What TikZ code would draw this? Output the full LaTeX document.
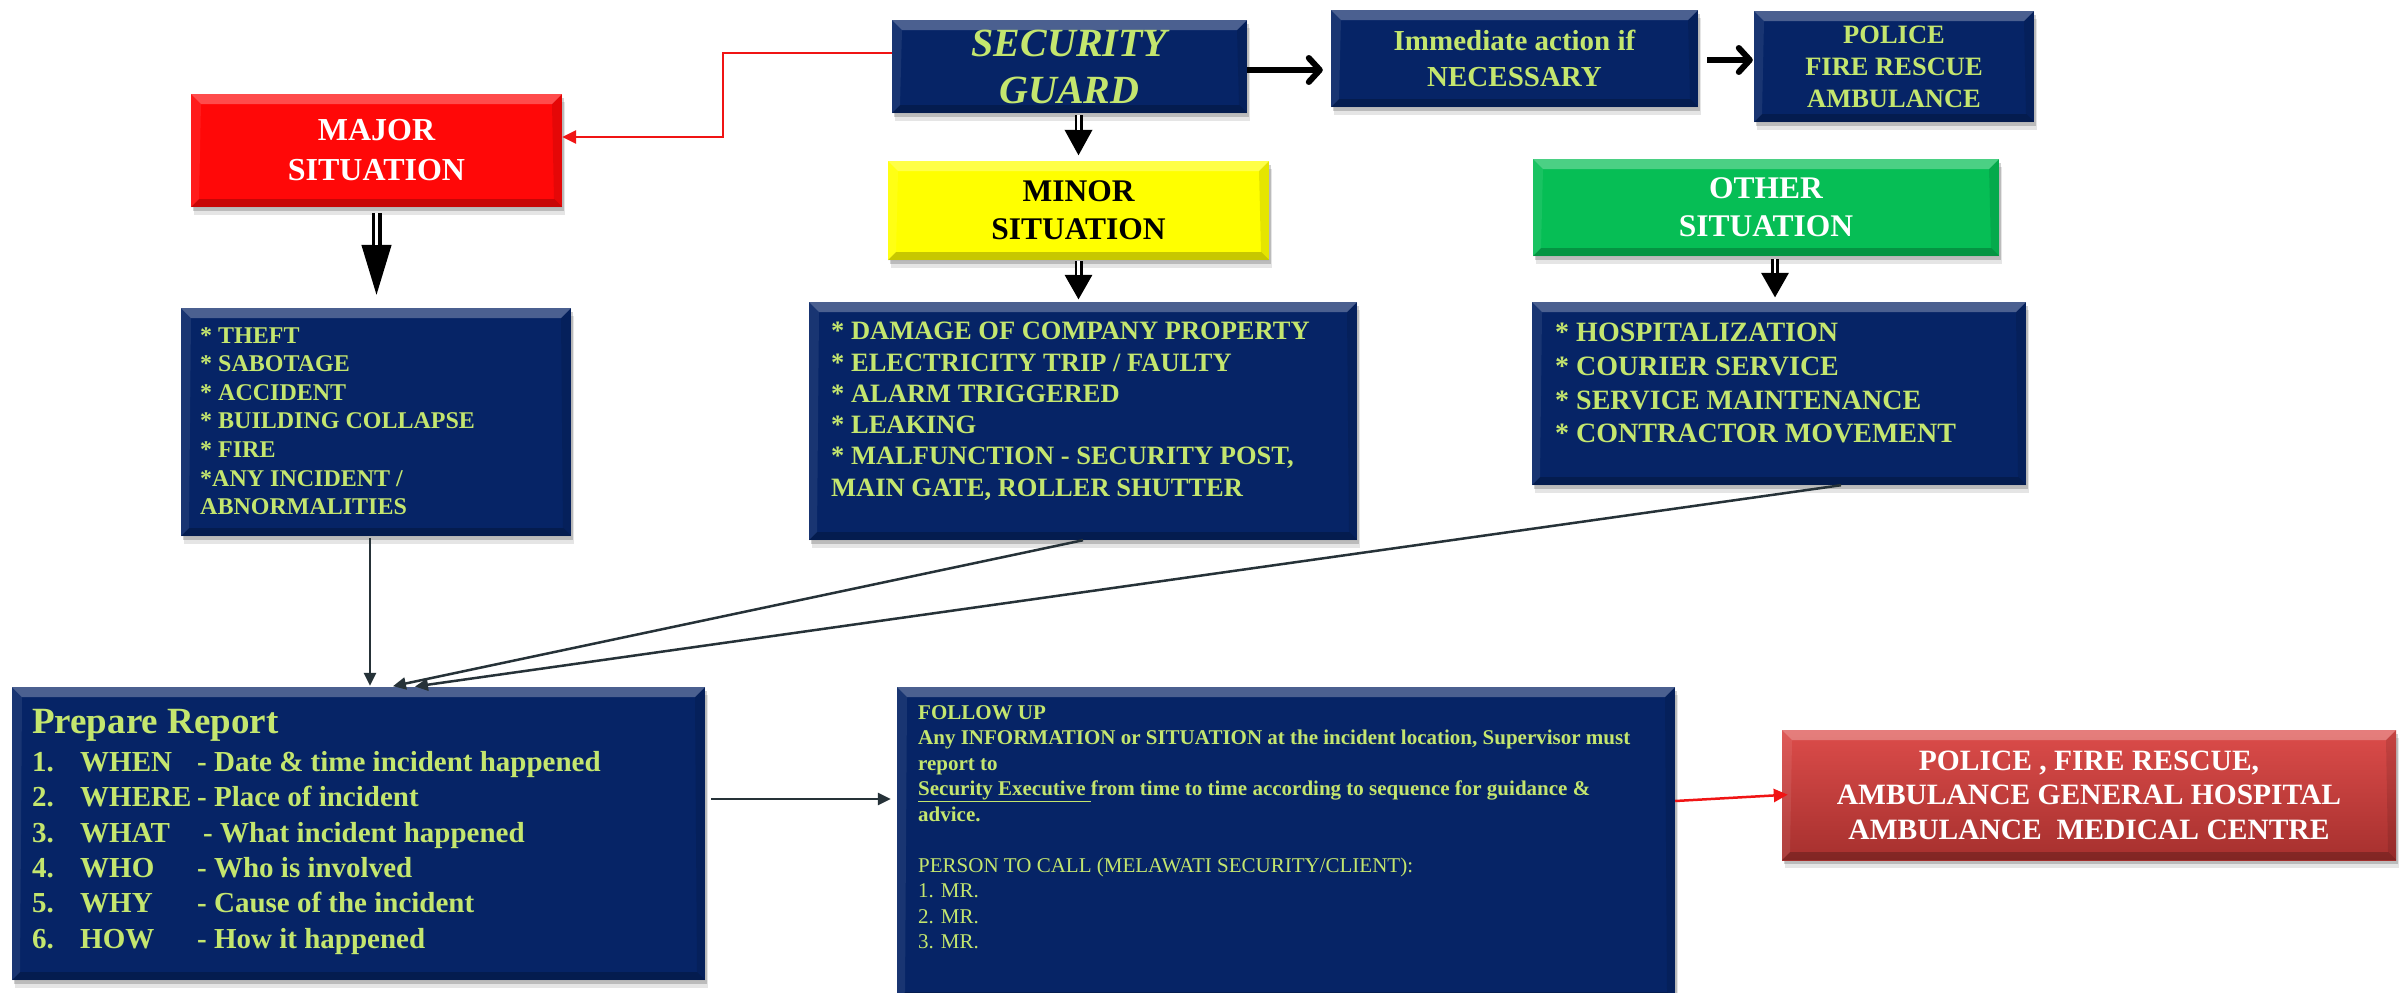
\documentclass[tikz,border=0pt]{standalone}
\usepackage{fontspec}
\setmainfont{Liberation Serif}
\usetikzlibrary{arrows.meta,shadows,calc}
\definecolor{navy}{RGB}{6,36,102}
\definecolor{lgreen}{RGB}{196,230,110}
\definecolor{bxgreen}{RGB}{6,190,85}
\definecolor{bxyellow}{RGB}{255,255,0}
\definecolor{bxred}{RGB}{255,8,8}
\definecolor{redtop}{RGB}{220,76,74}
\definecolor{redbot}{RGB}{166,48,46}
\definecolor{conn}{RGB}{38,50,56}
\definecolor{lnred}{RGB}{240,20,20}
\tikzset{
  bevel/.style={path picture={
    \fill[white,opacity=0.28] (path picture bounding box.north west) -- (path picture bounding box.north east)
      -- ([xshift=-10pt,yshift=-10pt]path picture bounding box.north east) -- ([xshift=10pt,yshift=-10pt]path picture bounding box.north west) -- cycle;
    \fill[black,opacity=0.22] (path picture bounding box.south west) -- (path picture bounding box.south east)
      -- ([xshift=-8pt,yshift=8pt]path picture bounding box.south east) -- ([xshift=8pt,yshift=8pt]path picture bounding box.south west) -- cycle;
    \fill[black,opacity=0.10] (path picture bounding box.north east) -- (path picture bounding box.south east)
      -- ([xshift=-8pt,yshift=8pt]path picture bounding box.south east) -- ([xshift=-10pt,yshift=-10pt]path picture bounding box.north east) -- cycle;
    \fill[white,opacity=0.08] (path picture bounding box.north west) -- (path picture bounding box.south west)
      -- ([xshift=8pt,yshift=8pt]path picture bounding box.south west) -- ([xshift=10pt,yshift=-10pt]path picture bounding box.north west) -- cycle;
  }},
  boxbase/.style={bevel, inner sep=0pt, align=center,
    drop shadow={shadow xshift=3pt, shadow yshift=-8pt, opacity=0.10, fill=black},
    drop shadow={shadow xshift=1.5pt, shadow yshift=-4pt, opacity=0.18, fill=black}},
  navybox/.style={boxbase, fill=navy, text=lgreen},
  listtext/.style={anchor=north west, inner sep=0pt, align=left, text=lgreen},
  thickarr/.style={line width=6pt, -{Straight Barb[length=11pt,width=24pt,round]}},
  bigdn/.style 2 args={line width=8pt, -{Triangle[length=#1pt,width=#2pt]}},
  gap/.style={white, line width=2.5pt},
  connline/.style={conn, line width=2.5pt, -{Triangle[length=13pt,width=12pt]}},
  redline/.style={lnred, line width=2.5pt, -{Triangle[length=14pt,width=13pt]}},
}
\begin{document}
\begin{tikzpicture}[x=1pt,y=-1pt]
\useasboundingbox (0,0) rectangle (2399,993);
\fill[white] (0,0) rectangle (2399,993);

% title boxes
\node[navybox, minimum width=355pt, minimum height=93pt,
  font={\bfseries\itshape\fontsize{40}{47}\selectfont}] (sg) at (1069.5,66.5) {SECURITY\\GUARD};
\node[navybox, minimum width=367pt, minimum height=97pt,
  font={\bfseries\fontsize{29}{36}\selectfont}] (imm) at (1514.5,58.5) {Immediate action if\\NECESSARY};
\node[navybox, minimum width=280pt, minimum height=111pt,
  font={\bfseries\fontsize{26.5}{32}\selectfont}] (pol) at (1894,66.5) {POLICE\\FIRE RESCUE\\AMBULANCE};
\node[boxbase, fill=bxred, text=white, minimum width=371pt, minimum height=113pt,
  font={\bfseries\fontsize{32}{40}\selectfont}] (major) at (376.5,150.5) {MAJOR\\SITUATION};
\node[boxbase, fill=bxyellow, text=black, minimum width=381pt, minimum height=99pt,
  font={\bfseries\fontsize{31.5}{38}\selectfont}] (minor) at (1078.5,210.5) {MINOR\\SITUATION};
\node[boxbase, fill=bxgreen, text=white, minimum width=466pt, minimum height=97pt,
  font={\bfseries\fontsize{31.5}{38}\selectfont}] (other) at (1766,207.5) {OTHER\\SITUATION};

% list boxes
\node[navybox, minimum width=390pt, minimum height=228pt] (majl) at (376,422) {};
\node[navybox, minimum width=548pt, minimum height=238pt] (minl) at (1083,421) {};
\node[navybox, minimum width=494pt, minimum height=183pt] (othl) at (1779,393.5) {};
\node[navybox, minimum width=693pt, minimum height=293pt] (prep) at (358.5,833.5) {};
\node[navybox, minimum width=778pt, minimum height=313pt] (foll) at (1286,843.5) {};
\node[boxbase, top color=redtop, bottom color=redbot, text=white, minimum width=614pt, minimum height=130pt,
  font={\bfseries\fontsize{29.5}{34.5}\selectfont}] (red) at (2089,795)
  {POLICE , FIRE RESCUE,\\AMBULANCE GENERAL HOSPITAL\\AMBULANCE~~MEDICAL CENTRE};

% list texts
\node[listtext, font={\bfseries\fontsize{24}{28.6}\selectfont}] (majt) at (200,327)
  {* THEFT\\* SABOTAGE\\* ACCIDENT\\* BUILDING COLLAPSE\\* FIRE\\*ANY INCIDENT /\\ABNORMALITIES};
\node[listtext, font={\bfseries\fontsize{26.5}{31.3}\selectfont}] (mint) at (831,322)
  {* DAMAGE OF COMPANY PROPERTY\\* ELECTRICITY TRIP / FAULTY\\* ALARM TRIGGERED\\* LEAKING\\* MALFUNCTION - SECURITY POST,\\MAIN GATE, ROLLER SHUTTER};
\node[listtext, font={\bfseries\fontsize{28}{33.7}\selectfont}] (otht) at (1555,323)
  {* HOSPITALIZATION\\* COURIER SERVICE\\* SERVICE MAINTENANCE\\* CONTRACTOR MOVEMENT};
\node[listtext, font={\bfseries\fontsize{37}{44}\selectfont}] (prept) at (32,709) {Prepare Report};
\node[listtext, font={\bfseries\fontsize{29}{35.4}\selectfont}] (prepl) at (32,751)
  {\makebox[48pt][l]{1.}\makebox[117pt][l]{WHEN}- Date \& time incident happened\\
   \makebox[48pt][l]{2.}\makebox[117pt][l]{WHERE}- Place of incident\\
   \makebox[48pt][l]{3.}\makebox[117pt][l]{WHAT}\hspace{6pt}- What incident happened\\
   \makebox[48pt][l]{4.}\makebox[117pt][l]{WHO}- Who is involved\\
   \makebox[48pt][l]{5.}\makebox[117pt][l]{WHY}- Cause of the incident\\
   \makebox[48pt][l]{6.}\makebox[117pt][l]{HOW}- How it happened};
\node[listtext, font={\fontsize{21}{25.5}\selectfont}] (follt) at (918,705)
  {\textbf{FOLLOW UP}\\
   \textbf{Any INFORMATION or SITUATION at the incident location, Supervisor must}\\
   \textbf{report to}\\
   \textbf{\underline{Security Executive }from time to time according to sequence for guidance \&}\\
   \textbf{advice.}\\[25.5pt]
   PERSON TO CALL (MELAWATI SECURITY/CLIENT):\\
   1. MR.\\
   2. MR.\\
   3. MR.};

% connectors
\draw[redline] ([yshift=13.5pt]sg.west) -- ++(-169,0) |- ([yshift=13.5pt]major.east);
\draw[thickarr, shorten >=8pt] ([yshift=-3.5pt]sg.east) -- ([yshift=-3.5pt]sg.east -| imm.west);
\draw[thickarr, shorten <=9pt, shorten >=1pt] ([yshift=-1.5pt]imm.east) -- ([yshift=-1.5pt]imm.east -| pol.west);

\draw[bigdn={26}{26}, shorten <=2pt, shorten >=5pt] (minor.north |- sg.south) -- (minor.north);
\draw[gap, shorten <=2pt, shorten >=31pt] (minor.north |- sg.south) -- (minor.north);
\draw[bigdn={53}{27}, line width=10pt, shorten <=6pt, shorten >=10pt] (major.south) -- (major.south |- majl.north);
\draw[gap, line width=3pt, shorten <=6pt, shorten >=63pt] (major.south) -- (major.south |- majl.north);
\draw[bigdn={25}{26}, shorten <=1pt, shorten >=2pt] (minor.south) -- (minor.south |- minl.north);
\draw[gap, shorten <=1pt, shorten >=27pt] (minor.south) -- (minor.south |- minl.north);
\draw[bigdn={25}{26}, shorten <=3pt, shorten >=4pt] ([xshift=9pt]other.south) -- ([xshift=9pt]other.south |- othl.north);
\draw[gap, shorten <=3pt, shorten >=29pt] ([xshift=9pt]other.south) -- ([xshift=9pt]other.south |- othl.north);

\draw[connline, shorten <=2pt, shorten >=1pt] ([xshift=-6pt]majl.south) -- ([xshift=-6pt]majl.south |- prep.north);
\draw[connline, shorten >=3pt] (minl.south) -- ([xshift=31.5pt]prep.north);
\draw[connline, shorten >=2pt] ([xshift=62pt]othl.south) -- ([xshift=54.5pt]prep.north);
\draw[connline, shorten <=6pt, shorten >=6pt] ([yshift=34.5pt]prep.east) -- ([yshift=34.5pt]prep.east -| foll.west);
\draw[redline, shorten >=-6pt] ([yshift=42.5pt]foll.east) -- (red.west);
\end{tikzpicture}
\end{document}
